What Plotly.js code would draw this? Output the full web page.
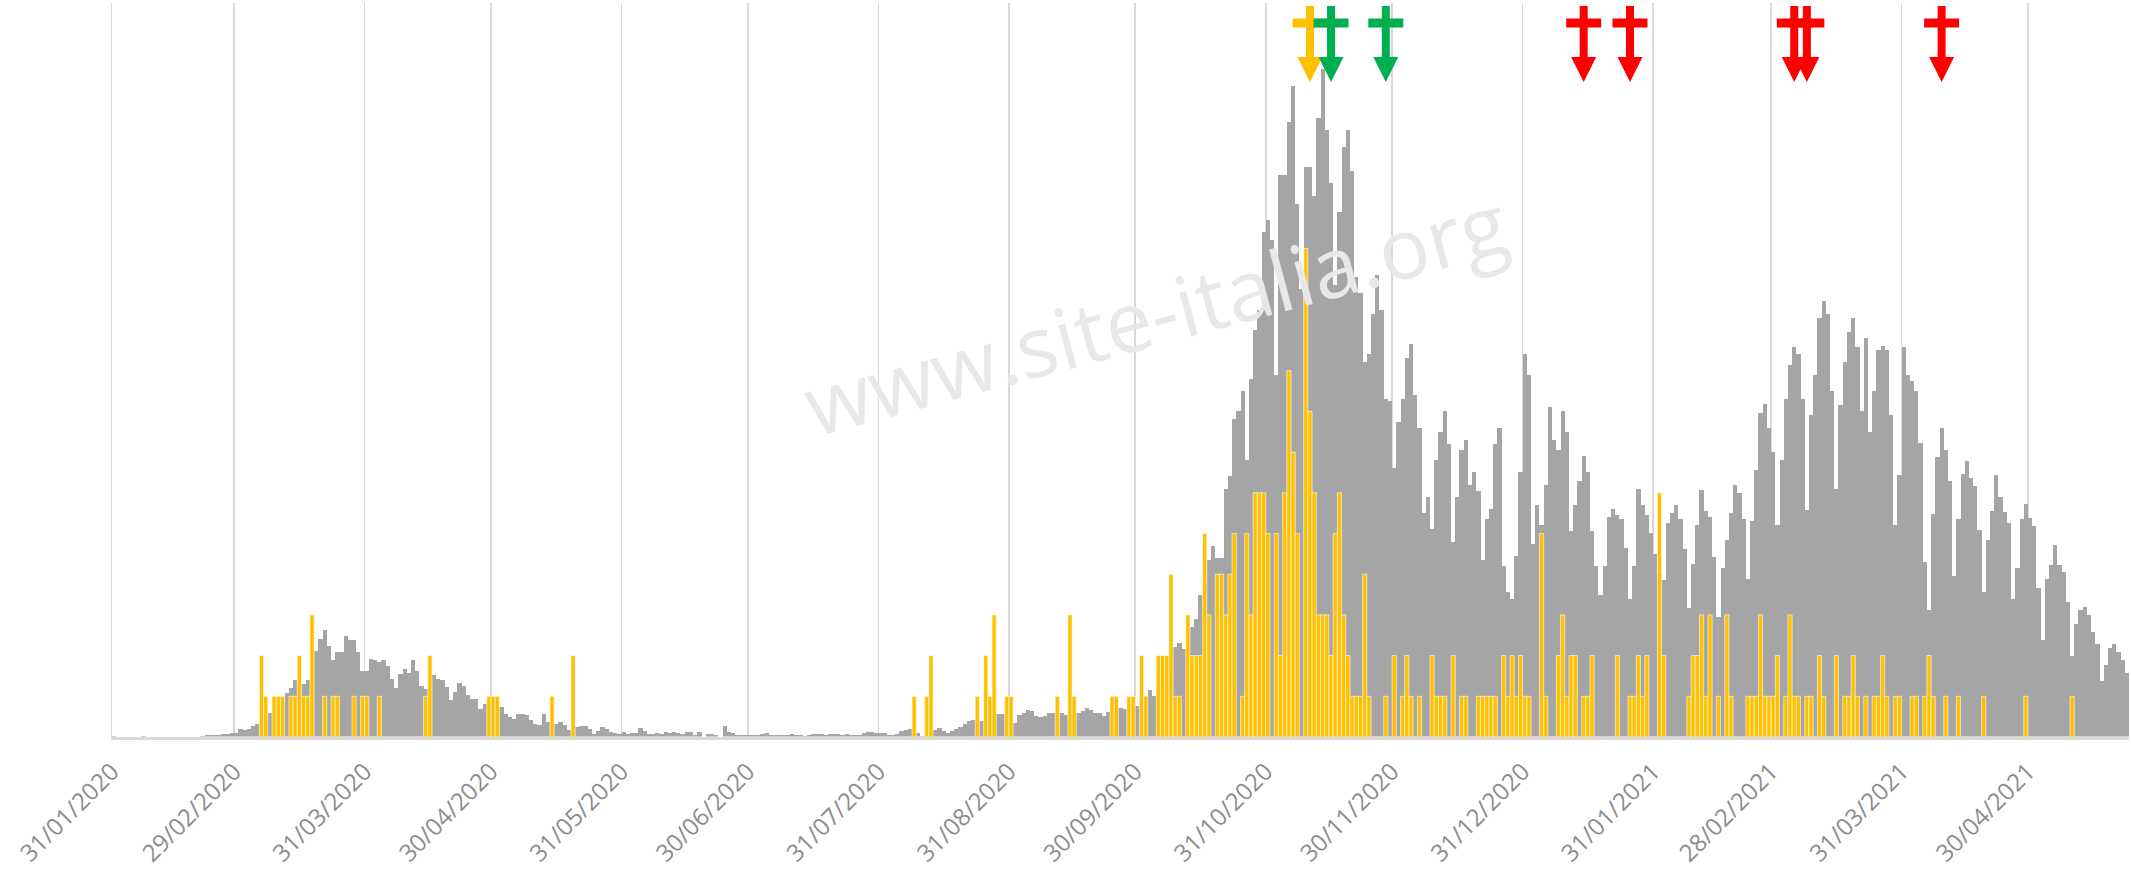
<!DOCTYPE html>
<html>
<head>
<meta charset="utf-8">
<script src="https://cdn.plot.ly/plotly-3.0.1.min.js"></script>
<style>html,body{margin:0;padding:0;background:#fff;}#chart{width:2131px;height:872px;}</style>
</head>
<body>
<div id="chart"></div>
<script>
// ---- data ----
const startDate = '2020-01-31';          // first day of the series
const endDate = '2021-05-24';            // axis end

// daily values, one per day from 31/01/2020 (grey bars)
const greyValues = [
0.02,0,0,0,0,0,0,0.03,0,0,
0,0,0,0,0,0,0,0,0,0,
0,0.03,0.04,0.04,0.04,0.05,0.07,0.08,0.1,0.1,
0.2,0.16,0.2,0.27,0.33,0.4,0.45,0.6,0.7,0.75,
0.85,1.07,1.2,1.39,1.3,1.29,1.4,1.68,2.11,2.4,
2.62,2.23,1.89,2.09,2.09,2.48,2.38,2.38,2.09,1.62,
1.62,1.91,1.89,1.84,1.9,1.74,1.43,1.21,1.54,1.68,
1.57,1.89,1.61,1.25,1.19,1.3,1.52,1.43,1.39,1.23,
0.9,1.1,1.33,1.25,1.02,0.94,0.93,0.68,0.82,0.85,
0.8,0.75,0.74,0.57,0.49,0.43,0.57,0.57,0.53,0.41,
0.33,0.29,0.56,0.37,0.3,0.33,0.37,0.29,0.16,0.2,
0.25,0.26,0.27,0.2,0.08,0.15,0.25,0.2,0.13,0.1,
0.07,0.12,0.08,0.1,0.1,0.22,0.15,0.07,0.07,0.1,
0.07,0.12,0.1,0.12,0.1,0.08,0.12,0.12,0.05,0.12,
0,0.08,0.08,0.06,0,0.27,0.12,0.1,0.06,0.06,
0.05,0.06,0.06,0.05,0.08,0.09,0.06,0.05,0.06,0.05,
0.06,0.07,0.06,0.04,0.02,0.05,0.07,0.08,0.07,0.05,
0.07,0.08,0.07,0.06,0.07,0.05,0.05,0.06,0.1,0.13,
0.12,0.1,0.11,0.1,0.06,0.05,0.08,0.15,0.18,0.2,
0.22,0.1,0.03,0.1,0.15,0.18,0.23,0.15,0.1,0.14,
0.2,0.25,0.33,0.39,0.42,0.45,0.4,0.45,0.5,0.55,
0.57,0.56,0.5,0.55,0.35,0.54,0.58,0.66,0.64,0.52,
0.48,0.52,0.6,0.6,0.6,0.6,0.54,0.6,0.62,0.6,
0.64,0.72,0.66,0.6,0.6,0.52,0.62,0.65,0.7,0.72,
0.7,0.75,0.8,0.75,0.9,1.0,1.15,1.0,1.2,1.3,
1.5,1.8,2.2,2.3,2.17,2.5,2.7,2.9,3.5,3.9,
4.35,4.7,4.4,4.4,6.1,6.4,7.8,8.0,8.5,6.8,
8.8,10.0,10.5,12.4,12.7,12.2,8.9,13.8,13.8,15.1,
16.0,13.1,11.0,14.0,14.0,13.3,15.2,16.4,14.9,13.6,
11.1,12.9,14.5,14.9,13.9,11.3,10.9,9.2,9.4,10.4,
11.35,10.5,8.3,8.25,6.6,7.75,8.3,9.3,9.66,8.4,
7.6,5.5,5.9,5.1,6.8,7.5,8.0,7.2,4.8,5.9,
7.05,7.3,6.2,6.5,6.05,4.35,5.35,5.6,7.2,7.6,
4.2,3.55,3.4,4.45,6.5,9.4,8.9,4.75,5.7,5.2,
6.2,8.1,7.3,7.05,8.0,7.5,5.05,5.7,6.3,6.9,
6.5,5.05,4.2,3.5,4.2,5.4,5.6,5.45,5.35,4.65,
3.4,4.2,6.1,5.7,5.45,5.0,4.5,4.0,3.85,5.26,
5.5,5.7,5.36,4.63,3.18,4.26,5.2,6.06,5.55,5.4,
4.42,2.96,4.14,4.83,5.5,6.2,6.0,5.36,3.87,5.3,
6.55,7.97,8.17,7.6,7.0,5.2,6.8,8.3,9.15,9.58,
9.4,8.3,5.57,7.9,8.9,10.3,10.7,10.4,8.5,6.1,
8.15,9.2,9.95,10.3,9.57,8.0,9.8,7.5,8.5,9.5,
9.6,9.5,7.9,5.2,6.43,9.57,8.9,8.75,8.5,7.22,
4.3,3.11,5.49,6.88,7.58,7.04,6.3,3.95,5.36,6.45,
6.78,6.37,6.16,5.08,3.56,4.83,5.55,6.43,5.9,5.53,
5.26,3.4,4.14,5.36,5.73,5.39,5.18,3.67,2.39,3.87,
4.22,4.71,4.22,4.05,3.32,2.0,2.78,3.11,3.19,2.99,
2.58,2.29,1.38,1.76,2.19,2.29,2.09,1.88,1.57
];

// daily values, same days (yellow bars)
const yellowValues = [
0,0,0,0,0,0,0,0,0,0,
0,0,0,0,0,0,0,0,0,0,
0,0,0,0,0,0,0,0,0,0,
0,0,0,0,0,2,1,0,1,1,
1,0,1,1,2,1,1,3,0,0,
1,0,1,1,0,0,0,1,0,1,
1,0,0,1,0,0,0,0,0,0,
0,0,0,0,1,2,0,0,0,0,
0,0,0,0,0,0,0,0,0,1,
1,1,0,0,0,0,0,0,0,0,
0,0,0,0,1,0,0,0,0,2,
0,0,0,0,0,0,0,0,0,0,
0,0,0,0,0,0,0,0,0,0,
0,0,0,0,0,0,0,0,0,0,
0,0,0,0,0,0,0,0,0,0,
0,0,0,0,0,0,0,0,0,0,
0,0,0,0,0,0,0,0,0,0,
0,0,0,0,0,0,0,0,0,0,
0,0,0,0,0,0,0,0,0,0,
1,0,0,1,2,0,0,0,0,0,
0,0,0,0,0,1,0,2,1,3,
0,0,1,1,0,0,0,0,0,0,
0,0,0,0,1,0,0,3,1,0,
0,0,0,0,0,0,0,1,1,0,
0,1,1,0,2,1,0,0,2,2,
2,4,1,1,0,3,2,2,2,5,
3,0,4,4,3,4,5,0,1,5,
3,6,6,6,5,0,5,2,6,9,
7,5,0,12,8,6,3,3,3,2,
5,6,3,2,1,1,1,4,1,0,
0,0,1,0,2,0,1,2,1,0,
1,0,0,2,1,1,1,0,2,0,
1,1,0,0,1,1,1,1,1,0,
2,1,2,1,2,1,1,0,0,5,
1,0,0,2,3,1,2,2,0,1,
1,2,0,0,0,0,0,2,0,0,
1,1,2,1,2,0,0,6,2,0,
0,0,0,0,1,2,2,3,1,3,
0,1,0,3,1,0,0,0,1,1,
1,3,1,1,1,2,0,1,3,1,
1,0,1,1,0,2,1,0,0,2,
0,1,1,2,1,0,1,0,1,1,
2,1,0,1,1,0,0,1,1,0,
1,2,1,0,0,1,0,0,1,0,
0,0,0,0,1,0,0,0,0,0,
0,0,0,0,1,0,0,0,0,0,
0,0,0,0,0,1,0,0,0,0,
0,0,0,0,0,0,0,0,0
];

// axis ticks
const tickDates = ['2020-01-31','2020-02-29','2020-03-31','2020-04-30','2020-05-31','2020-06-30',
  '2020-07-31','2020-08-31','2020-09-30','2020-10-31','2020-11-30','2020-12-31',
  '2021-01-31','2021-02-28','2021-03-31','2021-04-30'];
const tickLabels = ['31/01/2020','29/02/2020','31/03/2020','30/04/2020','31/05/2020','30/06/2020',
  '31/07/2020','31/08/2020','30/09/2020','31/10/2020','30/11/2020','31/12/2020',
  '31/01/2021','28/02/2021','31/03/2021','30/04/2021'];

// marker arrows at the top
const arrowDates = ['2020-11-10','2020-11-15','2020-11-28','2021-01-14','2021-01-25','2021-03-05','2021-03-08','2021-04-09'];
const arrowColors = ['#ffc000','#00b050','#00b050','#ff0000','#ff0000','#ff0000','#ff0000','#ff0000'];

const watermark = 'www.site-italia.org';

// ---- build ----
const DAY = 86400000;
const t0 = Date.parse(startDate + 'T00:00:00Z');
const days = greyValues.map((v, i) => new Date(t0 + i * DAY).toISOString().slice(0, 10) + ' 12:00');

const grey = {
  type: 'bar', x: days, y: greyValues, width: DAY,
  marker: {color: '#a5a5a5', line: {width: 0}},
  hoverinfo: 'skip', showlegend: false
};
const yellow = {
  type: 'bar', x: days, y: yellowValues, width: DAY,
  marker: {color: '#ffc000', line: {width: 0.6, color: '#ffffff'}},
  hoverinfo: 'skip', showlegend: false
};

// single outline: shaft with cross bar and arrow head (pixel offsets from the top of the plot)
const ARROW = 'M-4,-3 L4,-3 L4,-15.5 L17.5,-15.5 L17.5,-24.5 L4,-24.5 L4,-54 ' +
              'L12.5,-54 L0,-79 L-12.5,-54 L-4,-54 L-4,-24.5 L-17.5,-24.5 L-17.5,-15.5 L-4,-15.5 Z';
const shapes = arrowDates.map((d, i) => ({
  type: 'path', xref: 'x', yref: 'paper',
  xsizemode: 'pixel', ysizemode: 'pixel',
  xanchor: d + ' 12:00', yanchor: 1,
  path: ARROW, fillcolor: arrowColors[i], line: {width: 0}, layer: 'above'
}));

const layout = {
  width: 2131, height: 872,
  margin: {l: 112, r: 2, t: 3, b: 135, pad: 0},
  paper_bgcolor: '#ffffff', plot_bgcolor: '#ffffff',
  barmode: 'overlay', bargap: 0,
  showlegend: false,
  xaxis: {
    type: 'date', range: [startDate, endDate],
    tickmode: 'array', tickvals: tickDates, ticktext: tickLabels,
    tickangle: -45, ticks: '', ticklabelstandoff: 8,
    tickfont: {family: 'Open Sans, DejaVu Sans, sans-serif', size: 24, color: '#8c8c8c'},
    showgrid: true, gridcolor: '#d9d9d9', gridwidth: 1.5,
    showline: true, linecolor: '#d9d9d9', linewidth: 3,
    zeroline: false, fixedrange: true
  },
  yaxis: {
    range: [0, 18.03], showticklabels: false, ticks: '',
    showgrid: false, zeroline: false,
    showline: true, linecolor: '#d9d9d9', linewidth: 1.5, fixedrange: true
  },
  shapes: shapes,
  annotations: [{
    text: watermark, xref: 'paper', yref: 'paper', x: 0.517, y: 0.578,
    showarrow: false, textangle: -15,
    font: {family: 'Open Sans, sans-serif', size: 84, color: '#e8e8e8'}
  }]
};

Plotly.newPlot('chart', [grey, yellow], layout, {displayModeBar: false, staticPlot: true});
</script>
</body>
</html>
